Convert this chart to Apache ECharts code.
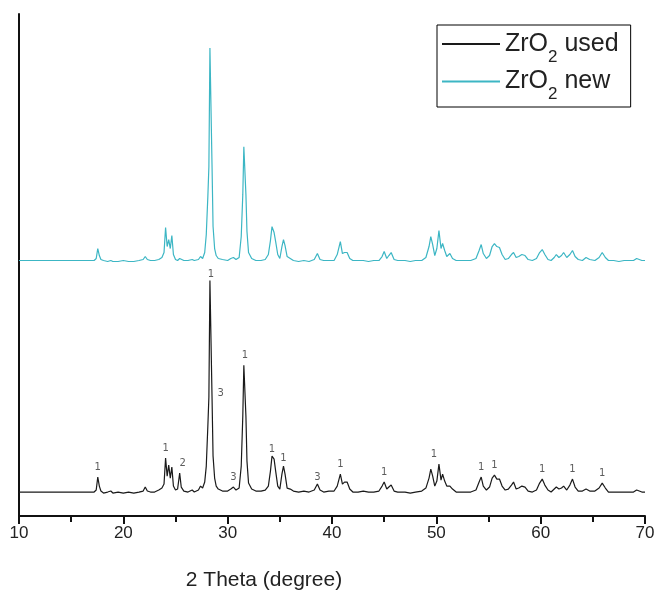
<!DOCTYPE html>
<html>
<head>
<meta charset="utf-8">
<title>XRD ZrO2</title>
<script src="https://cdn.jsdelivr.net/npm/echarts/dist/echarts.min.js"></script>
<style>
  html, body { margin: 0; padding: 0; background: #fff; }
  #chart { width: 658px; height: 596px; }
</style>
</head>
<body>
<div id="chart"></div>
<script>
// 2θ positions (degree) shared by both diffraction patterns
const theta = [
  10.0, 13.6, 13.7, 13.8, 17.2, 17.4, 17.55, 17.7, 17.85, 18.1,
  18.5, 18.8, 19.0, 19.5, 20.0, 20.5, 21.0, 21.5, 21.9, 22.1,
  22.3, 22.6, 23.0, 23.4, 23.7, 23.9, 24.05, 24.2, 24.35, 24.5,
  24.65, 24.8, 25.0, 25.2, 25.4, 25.55, 25.8, 26.2, 26.6, 26.8,
  27.2, 27.4, 27.6, 27.8, 27.95, 28.1, 28.2, 28.3, 28.42, 28.5,
  28.6, 28.75, 28.9, 29.1, 29.5, 30.0, 30.3, 30.55, 30.8, 31.1,
  31.3, 31.45, 31.55, 31.65, 31.75, 31.85, 32.0, 32.3, 32.7, 33.2,
  33.6, 33.9, 34.1, 34.25, 34.45, 34.6, 34.8, 35.0, 35.2, 35.35,
  35.5, 35.7, 36.0, 36.3, 36.8, 37.3, 37.8, 38.3, 38.6, 38.85,
  39.2, 39.7, 40.2, 40.5, 40.8, 41.0, 41.2, 41.45, 41.7, 42.0,
  42.5, 43.0, 43.5, 44.0, 44.5, 44.8, 45.0, 45.25, 45.45, 45.67,
  45.95, 46.3, 47.0, 47.5, 48.0, 48.6, 49.0, 49.3, 49.47, 49.65,
  49.85, 50.05, 50.25, 50.45, 50.6, 50.8, 51.0, 51.3, 51.55, 51.9,
  52.3, 52.8, 53.3, 53.8, 54.1, 54.3, 54.5, 54.8, 55.1, 55.35,
  55.57, 55.8, 56.05, 56.3, 56.6, 56.9, 57.2, 57.4, 57.65, 57.9,
  58.2, 58.5, 58.8, 59.2, 59.6, 59.9, 60.15, 60.4, 60.7, 61.0,
  61.3, 61.5, 61.75, 62.0, 62.2, 62.5, 62.8, 63.05, 63.3, 63.6,
  64.0, 64.35, 64.7, 65.2, 65.6, 65.9, 66.2, 66.5, 67.0, 67.5,
  68.0, 68.5, 68.9, 69.2, 69.45, 69.7, 70.0
];

// Intensity (a.u.) of the used catalyst
const usedIntensity = [
  24, 24, 25, 24, 24, 26, 39, 30, 25, 23,
  24, 25, 23, 24, 23, 24, 23, 24, 25, 29,
  25, 24, 24, 26, 28, 32, 58, 40, 51, 38,
  49, 30, 26, 27, 43, 29, 25, 24, 26, 24,
  26, 30, 28, 34, 50, 90, 119, 236, 236, 120,
  60, 38, 30, 27, 25, 25, 27, 29, 26, 28,
  50, 100, 151, 151, 100, 55, 33, 27, 25, 25,
  26, 30, 45, 60, 57, 45, 30, 27, 42, 50,
  42, 28, 27, 25, 24, 25, 24, 26, 32, 26,
  24, 25, 25, 30, 42, 32, 34, 34, 27, 24,
  24, 25, 24, 24, 25, 30, 34, 27, 29, 31,
  25, 24, 24, 23, 24, 25, 28, 38, 47, 40,
  30, 35, 52, 36, 42, 35, 30, 30, 27, 24,
  24, 24, 24, 26, 34, 39, 30, 26, 29, 38,
  41, 37, 37, 30, 26, 27, 31, 34, 27, 28,
  30, 29, 25, 24, 26, 33, 37, 31, 26, 24,
  27, 29, 27, 28, 30, 26, 31, 37, 29, 25,
  25, 27, 25, 25, 28, 33, 28, 24, 24, 24,
  24, 24, 24, 26, 25, 24, 24
];

// Intensity (a.u.) of the fresh catalyst, plotted with a vertical offset
const newIntensity = [
  256, 256, 257, 256, 256, 258, 268, 261, 257, 256,
  255, 256, 255, 255, 256, 255, 255, 256, 257, 260,
  257, 256, 256, 257, 259, 264, 289, 270, 277, 268,
  281, 262, 257, 256, 258, 257, 256, 256, 257, 256,
  257, 260, 258, 264, 282, 320, 350, 469, 469, 352,
  290, 268, 261, 258, 257, 256, 258, 259, 257, 259,
  280, 322, 370, 370, 322, 285, 264, 258, 256, 256,
  257, 262, 276, 290, 284, 275, 262, 258, 270, 277,
  271, 260, 258, 256, 255, 256, 255, 257, 263, 257,
  256, 256, 256, 262, 275, 263, 264, 264, 258, 256,
  256, 256, 255, 256, 256, 260, 265, 258, 261, 264,
  257, 256, 256, 255, 256, 256, 259, 270, 280, 272,
  261, 268, 286, 268, 273, 266, 260, 263, 258, 256,
  256, 256, 256, 258, 266, 272, 263, 258, 261, 270,
  273, 270, 269, 262, 257, 258, 262, 264, 259, 260,
  262, 261, 257, 256, 258, 264, 267, 262, 257, 256,
  259, 262, 259, 261, 264, 259, 262, 266, 260, 257,
  256, 259, 257, 256, 259, 264, 259, 256, 256, 255,
  256, 256, 256, 258, 257, 256, 256
];

// Phase markers on the used pattern: peak position and phase number
const markerTheta = [17.55, 24.05, 25.4, 28.3, 28.2, 30.55, 31.55, 34.25, 35.35,
                     38.6, 40.8, 45.0, 50.25, 54.3, 55.57, 60.15, 63.05, 65.9];
const markerText = ['1', '1', '2', '1', '3', '3', '1', '1', '1',
                    '3', '1', '1', '1', '1', '1', '1', '1', '1'];

// x-axis ticks
const xMin = 10, xMax = 70, xStep = 10;

// per-marker label placement tweaks (styling only)
const markerLabelStyle = {
  2: { offset: [3, 0] },
  3: { distance: 1, offset: [1, 0] },
  4: { position: 'right', distance: 8, offset: [0, -4] },
  6: { offset: [1, 0] },
  7: { distance: 1 },
  8: { distance: 2 },
  9: { distance: 1 },
  12: { offset: [-5, 0] }
};

const FONT = 'Liberation Sans, Arial, sans-serif';

const chart = echarts.init(document.getElementById('chart'), null, { renderer: 'canvas' });

const usedData = theta.map((t, i) => [t, usedIntensity[i]]);
const newData = theta.map((t, i) => [t, newIntensity[i]]);
const markerData = markerTheta.map((t, i) => {
  const v = usedIntensity[theta.indexOf(t)];
  const item = { value: [t, v], name: markerText[i] };
  if (markerLabelStyle[i]) item.label = markerLabelStyle[i];
  return item;
});

const option = {
  animation: false,
  backgroundColor: '#ffffff',
  grid: { left: 19, right: 13, top: 14, bottom: 79, containLabel: false },
  legend: {
    orient: 'vertical',
    left: 437,
    top: 25,
    padding: [4, 12, 4, 5],
    itemGap: 1,
    itemWidth: 58,
    itemHeight: 2,
    icon: 'rect',
    borderColor: '#000',
    borderWidth: 1,
    data: ['ZrO2 used', 'ZrO2 new'],
    formatter: name => '{m|' + name.replace('ZrO2', 'ZrO}{sub|2}{m|') + '}',
    textStyle: {
      fontFamily: FONT,
      fontSize: 25,
      color: '#222',
      rich: {
        m: { fontFamily: FONT, fontSize: 25, lineHeight: 30, height: 30, color: '#222' },
        sub: { fontFamily: FONT, fontSize: 17, height: 4, lineHeight: 4, verticalAlign: 'bottom', color: '#222' }
      }
    }
  },
  xAxis: {
    type: 'value',
    min: xMin,
    max: xMax,
    interval: xStep,
    name: '2 Theta (degree)',
    nameLocation: 'middle',
    nameGap: 54,
    nameTextStyle: {
      fontFamily: FONT,
      fontSize: 21,
      color: '#222',
      padding: [0, 136, 0, 0]
    },
    axisLine: { show: true, onZero: false, lineStyle: { color: '#111', width: 2 } },
    axisTick: { show: true, inside: false, length: 8, lineStyle: { color: '#111', width: 2 } },
    minorTick: { show: true, splitNumber: 2, length: 6, lineStyle: { color: '#111', width: 2 } },
    axisLabel: {
      fontFamily: FONT,
      fontSize: 17,
      color: '#222',
      margin: 9
    },
    splitLine: { show: false }
  },
  yAxis: {
    type: 'value',
    min: 0,
    max: 503,
    axisLine: { show: true, onZero: false, lineStyle: { color: '#111', width: 2 } },
    axisTick: { show: false },
    axisLabel: { show: false },
    splitLine: { show: false }
  },
  series: [
    {
      name: 'ZrO2 used',
      type: 'line',
      data: usedData,
      symbol: 'none',
      color: '#1a1a1a',
      lineStyle: { width: 1.2, color: '#1a1a1a' }
    },
    {
      name: 'ZrO2 new',
      type: 'line',
      data: newData,
      symbol: 'none',
      color: '#3cb6c4',
      lineStyle: { width: 1.2, color: '#3cb6c4' }
    },
    {
      name: 'phase',
      type: 'scatter',
      data: markerData,
      symbolSize: 1,
      itemStyle: { color: 'rgba(0,0,0,0)' },
      silent: true,
      z: 5,
      label: {
        show: true,
        position: 'top',
        distance: 4,
        formatter: p => p.name,
        fontFamily: 'DejaVu Sans, sans-serif',
        fontSize: 10,
        color: '#333'
      }
    }
  ]
};

chart.setOption(option);
</script>
</body>
</html>
